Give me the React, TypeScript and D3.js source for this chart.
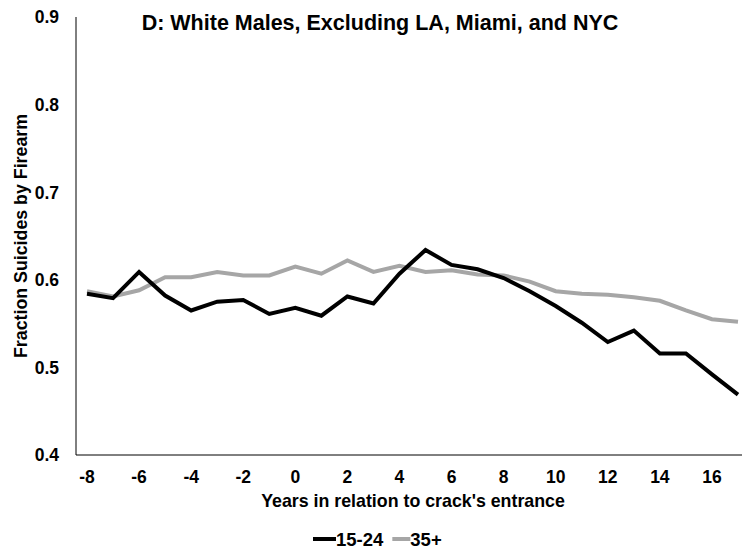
import { useEffect, useRef } from 'react';
import * as d3 from 'd3';

// years relative to crack's entrance
const years = [-8, -7, -6, -5, -4, -3, -2, -1, 0, 1, 2, 3, 4, 5, 6, 7, 8, 9, 10, 11, 12, 13, 14, 15, 16, 17];

// fraction of suicides by firearm, ages 15-24
const young = [
  0.584, 0.579, 0.609, 0.582, 0.565, 0.575, 0.577, 0.561, 0.568, 0.559, 0.581, 0.573, 0.607,
  0.634, 0.617, 0.612, 0.602, 0.587, 0.57, 0.551, 0.529, 0.542, 0.516, 0.516, 0.492, 0.469,
];

// ages 35+
const older = [
  0.587, 0.581, 0.588, 0.603, 0.603, 0.609, 0.605, 0.605, 0.615, 0.607, 0.622, 0.609, 0.616,
  0.609, 0.611, 0.606, 0.605, 0.598, 0.587, 0.584, 0.583, 0.58, 0.576, 0.565, 0.555, 0.552,
];

const xTicks = [-8, -6, -4, -2, 0, 2, 4, 6, 8, 10, 12, 14, 16];
const yTicks = [0.4, 0.5, 0.6, 0.7, 0.8, 0.9];

const seriesNames = ['15-24', '35+'];
const seriesColors = ['#000000', '#a6a6a6'];

const App = () => {
  const svgRef = useRef<SVGSVGElement>(null);

  useEffect(() => {
    const width = 742;
    const height = 549;
    const font = 'Arial, "Liberation Sans", Helvetica, sans-serif';

    const svg = d3.select(svgRef.current);
    svg.selectAll('*').remove();
    svg.attr('width', width).attr('height', height);

    const x = d3.scaleLinear().domain([-8, 17]).range([87, 738]);
    const y = d3.scaleLinear().domain([0.4, 0.9]).range([455, 17]);

    // axes lines
    svg
      .append('line')
      .attr('x1', 76)
      .attr('x2', 76)
      .attr('y1', y(0.9))
      .attr('y2', y(0.4))
      .attr('stroke', '#000')
      .attr('stroke-width', 1);
    svg
      .append('line')
      .attr('x1', 76)
      .attr('x2', width)
      .attr('y1', y(0.4))
      .attr('y2', y(0.4))
      .attr('stroke', '#000')
      .attr('stroke-width', 1);

    // y tick labels
    svg
      .append('g')
      .selectAll('text')
      .data(yTicks)
      .enter()
      .append('text')
      .attr('x', 59)
      .attr('y', (d) => y(d))
      .attr('dy', '0.36em')
      .attr('text-anchor', 'end')
      .style('font-family', font)
      .style('font-weight', 'bold')
      .style('font-size', '17.5px')
      .text((d) => d3.format('.1f')(d));

    // x tick labels
    svg
      .append('g')
      .selectAll('text')
      .data(xTicks)
      .enter()
      .append('text')
      .attr('x', (d) => x(d))
      .attr('y', 483)
      .attr('text-anchor', 'middle')
      .style('font-family', font)
      .style('font-weight', 'bold')
      .style('font-size', '17.5px')
      .text((d) => String(d));

    // lines
    const line = d3
      .line<number>()
      .x((_, i) => x(years[i]))
      .y((d) => y(d));

    [older, young].forEach((values, k) => {
      svg
        .append('path')
        .datum(values)
        .attr('fill', 'none')
        .attr('stroke', k === 0 ? seriesColors[1] : seriesColors[0])
        .attr('stroke-width', 4)
        .attr('stroke-linejoin', 'miter')
        .attr('d', line);
    });

    // title
    svg
      .append('text')
      .attr('x', 380)
      .attr('y', 30)
      .attr('text-anchor', 'middle')
      .style('font-family', font)
      .style('font-weight', 'bold')
      .style('font-size', '21.5px')
      .text('D: White Males, Excluding LA, Miami, and NYC');

    // axis titles
    svg
      .append('text')
      .attr('x', 413)
      .attr('y', 507)
      .attr('text-anchor', 'middle')
      .style('font-family', font)
      .style('font-weight', 'bold')
      .style('font-size', '17.8px')
      .text("Years in relation to crack's entrance");

    svg
      .append('text')
      .attr('transform', `translate(27,${(y(0.4) + y(0.9)) / 2}) rotate(-90)`)
      .attr('text-anchor', 'middle')
      .style('font-family', font)
      .style('font-weight', 'bold')
      .style('font-size', '17.8px')
      .text('Fraction Suicides by Firearm');

    // legend
    const legend = svg.append('g').attr('transform', 'translate(313,539)');
    let offset = 0;
    seriesNames.forEach((name, i) => {
      legend
        .append('line')
        .attr('x1', offset)
        .attr('x2', offset + (i === 0 ? 23 : 18))
        .attr('y1', 0)
        .attr('y2', 0)
        .attr('stroke', seriesColors[i])
        .attr('stroke-width', 4);
      offset += i === 0 ? 23 : 18;
      const t = legend
        .append('text')
        .attr('x', offset)
        .attr('y', 6.5)
        .style('font-family', font)
        .style('font-weight', 'bold')
        .style('font-size', '18.5px')
        .text(name);
      offset += (t.node() as SVGTextElement).getComputedTextLength() + 9;
    });

    return () => {
      svg.selectAll('*').remove();
    };
  }, []);

  return (
    <div style={{ position: 'absolute', left: 0, top: 0 }}>
      <svg ref={svgRef} style={{ display: 'block', background: '#fff' }}></svg>
    </div>
  );
};

export default App;
